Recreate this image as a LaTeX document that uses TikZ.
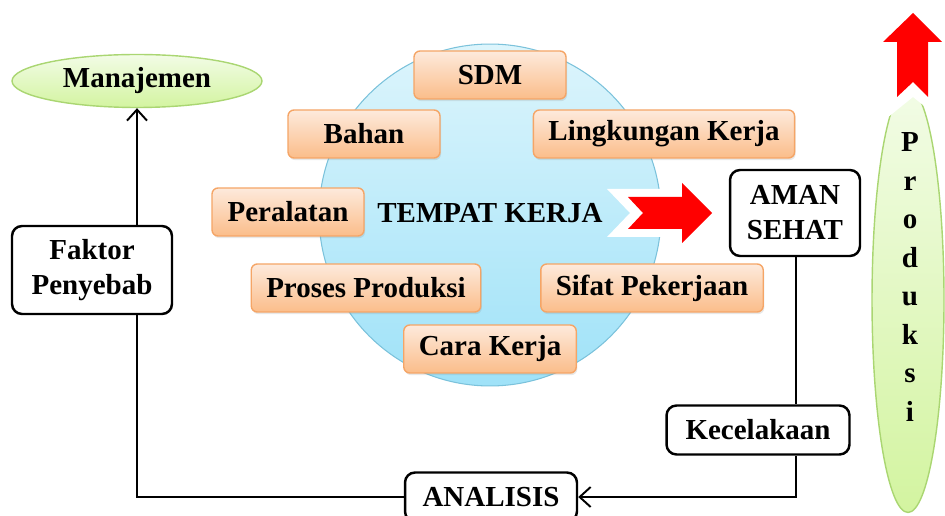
\documentclass[tikz,border=0pt]{standalone}
\usepackage{fontspec}
\setmainfont{Liberation Serif}
\usepackage{tikz}
\usetikzlibrary{shapes.geometric,shadows,arrows.meta,calc}

\definecolor{boxtop}{HTML}{FDEADC}
\definecolor{boxbot}{HTML}{FBBD8A}
\definecolor{boxline}{HTML}{F5A566}
\definecolor{circtop}{HTML}{DDF5FC}
\definecolor{circbot}{HTML}{9FE2F8}
\definecolor{circline}{HTML}{7BC2DB}
\definecolor{greentop}{HTML}{F2FCE6}
\definecolor{greenbot}{HTML}{D3F4A0}
\definecolor{greenline}{HTML}{AAD672}
\definecolor{arrowred}{HTML}{FF0000}

\begin{document}
\begin{tikzpicture}[
		x=0.02cm, y=-0.02cm,
		every node/.style={font=\fontsize{16.5}{20}\selectfont\bfseries},
		OrangeBox/.style={draw=boxline, line width=0.8pt, rounded corners=0.12cm,
			top color=boxtop, bottom color=boxbot,
			minimum width=3.04cm, minimum height=0.96cm, inner xsep=0.3cm,
			drop shadow={opacity=0.18, shadow xshift=0.6pt, shadow yshift=-1.2pt}},
		BlackBox/.style={draw=black, line width=1.4pt, rounded corners=0.2cm,
			fill=white, align=center, inner sep=0pt},
		GreenOval/.style={ellipse, draw=greenline, line width=0.8pt,
			top color=greentop, bottom color=greenbot, inner sep=0pt},
		Connector/.style={draw=black, line width=1.1pt},
		MyArrow/.style={-{Straight Barb[length=2.2mm, width=4mm, line width=1.1pt]}}
		]
		
		\useasboundingbox (0,0) rectangle (945,516);
		\clip (0,0) rectangle (945,516);
		
		% tempat kerja
		\node[circle, draw=circline, line width=0.6pt, top color=circtop, bottom color=circbot,
			minimum size=6.84cm] (tempat) at (490,215) {};
		\node (tempattxt) at (490,213) {TEMPAT KERJA};
		
		% faktor di tempat kerja
		\node[OrangeBox] (sdm) at (490,75) {SDM};
		\node[OrangeBox] (bahan) at (364,134) {Bahan};
		\node[OrangeBox] (lingkungan) at (664,134) {Lingkungan Kerja};
		\node[OrangeBox] (peralatan) at (288,212) {Peralatan};
		\node[OrangeBox] (proses) at (366,288) {Proses Produksi};
		\node[OrangeBox] (sifat) at (652,288) {Sifat Pekerjaan};
		\node[OrangeBox] (cara) at (490,349) {Cara Kerja};
		
		% panah merah ke kanan
		\fill[white] (607,189) -- (670,189) -- (670,177) -- (722,213) -- (670,249)
			-- (670,237) -- (607,237) -- (630,213) -- cycle;
		\fill[arrowred] (628,197) -- (682,197) -- (682,183) -- (712,213) -- (682,243)
			-- (682,229) -- (628,229) -- (643,213) -- cycle;
		
		% produksi
		\node[GreenOval, minimum width=1.44cm, minimum height=8.5cm] (produksi) at (908,300) {};
		\fill[white] (887,118) -- (887,50) -- (939,50) -- (939,118) -- (913,97) -- cycle;
		\fill[arrowred] (897,97) -- (897,42) -- (883,42) -- (913,13) -- (942,42)
			-- (928,42) -- (928,97) -- (913,82) -- cycle;
		\node[align=center, font=\fontsize{16.5}{21.9}\selectfont\bfseries] (produksitxt) at (910,277)
			{P\\r\\o\\d\\u\\k\\s\\i};
		
		% kotak hitam
		\node[GreenOval, minimum width=5cm, minimum height=1.06cm] (manajemen) at (137,81) {Manajemen};
		\node[BlackBox, minimum width=3.2cm, minimum height=1.76cm] (faktor) at (92,270) {Faktor\\Penyebab};
		\node[BlackBox, minimum width=2.6cm, minimum height=1.72cm] (aman) at (795,213) {AMAN\\SEHAT};
		\node[BlackBox, minimum width=3.66cm, minimum height=0.98cm] (kecelakaan) at (758,430) {Kecelakaan};
		\node[BlackBox, minimum width=3.44cm, minimum height=0.98cm] (analisis) at (491,497) {ANALISIS};
		
		% alur
		\draw[Connector] (aman.south -| 796,0) -- (kecelakaan.north -| 796,0);
		\draw[Connector, MyArrow] (kecelakaan.south -| 796,0) |- (analisis.east);
		\draw[Connector] (analisis.west) -| (faktor.south -| manajemen.south);
		\draw[Connector, MyArrow] (faktor.north -| manajemen.south) -- (manajemen.south);
		
\end{tikzpicture}
\end{document}
